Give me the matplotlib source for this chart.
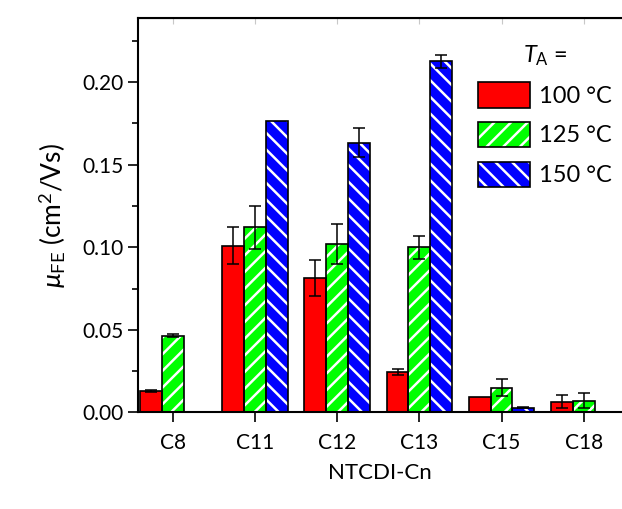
import numpy as np
import matplotlib
matplotlib.use("Agg")
import matplotlib.pyplot as plt
from matplotlib.patches import Patch
from matplotlib.legend_handler import HandlerTuple
from matplotlib.ticker import MultipleLocator, FormatStrFormatter

plt.rcParams['font.family'] = ['Lato', 'DejaVu Sans']
plt.rcParams['mathtext.fontset'] = 'custom'
plt.rcParams['mathtext.rm'] = 'Lato'
plt.rcParams['mathtext.it'] = 'Lato:italic'
plt.rcParams['hatch.linewidth'] = 1.8

# data
categories = ['C8', 'C11', 'C12', 'C13', 'C15', 'C18']
labels = ['100 °C', '125 °C', '150 °C']
mu_100 = [0.013, 0.101, 0.0815, 0.0245, 0.0093, 0.0063]
err_100 = [0.0008, 0.011, 0.011, 0.002, 0.0, 0.004]
mu_125 = [0.0465, 0.112, 0.102, 0.100, 0.015, 0.0071]
err_125 = [0.001, 0.013, 0.012, 0.007, 0.005, 0.0047]
mu_150 = [0.0, 0.1764, 0.1634, 0.2126, 0.0029, 0.0]
err_150 = [0.0, 0.0, 0.009, 0.004, 0.0005, 0.0]

colors = ['#ff0000', '#00ff00', '#0000ff']
hatches = [None, '//', '\\\\']

fig = plt.figure(figsize=(6.22, 5.09), dpi=100)
ax = fig.add_axes([0.222, 0.19, 0.776, 0.775])

x = np.arange(len(categories))
w = 0.265
series = [(mu_100, err_100), (mu_125, err_125), (mu_150, err_150)]
handles = []
for i, (vals, errs) in enumerate(series):
    pos = x + (i - 1) * w
    ax.bar(pos, vals, w, color=colors[i], edgecolor='white', linewidth=0,
           hatch=hatches[i], zorder=2)
    ax.bar(pos, vals, w, fill=False, edgecolor='black', linewidth=1.2, zorder=3)
    e = np.array(errs)
    m = e > 0
    ax.errorbar(pos[m], np.array(vals)[m], yerr=e[m], fmt='none', ecolor='black',
                elinewidth=1.1, capsize=4.5, capthick=1.1, zorder=4)
    h1 = Patch(facecolor=colors[i], edgecolor='white', linewidth=0, hatch=hatches[i])
    h2 = Patch(fill=False, edgecolor='black', linewidth=1.2)
    handles.append((h1, h2))

ax.set_xlim(-0.42, 5.45)
ax.set_ylim(0, 0.239)
ax.set_xticks(x)
ax.set_xticklabels(categories)
ax.yaxis.set_major_locator(MultipleLocator(0.05))
ax.yaxis.set_minor_locator(MultipleLocator(0.025))
ax.yaxis.set_major_formatter(FormatStrFormatter('%.2f'))
ax.tick_params(axis='both', which='major', direction='out', length=7, width=1.2,
               labelsize=15)
ax.tick_params(axis='x', which='major', pad=8)
ax.tick_params(axis='y', which='minor', direction='out', length=4, width=1.2)
# faint marks along the top edge
ax.secondary_xaxis('top').tick_params(direction='in', length=4, color='#c8c8c8',
                                      labeltop=False)
for s in ax.spines.values():
    s.set_linewidth(1.5)
ax.spines['right'].set_visible(False)

ax.set_xlabel('NTCDI-Cn', fontsize=16, labelpad=7)
ax.set_ylabel(r'$\mu_{\rm FE}$ (cm$^2$/Vs)', fontsize=19, labelpad=10)

leg = ax.legend(handles, labels, handler_map={tuple: HandlerTuple(ndivide=1)},
                title=r'$T_{\rm A}$ =', loc='upper right', frameon=False,
                fontsize=17, title_fontsize=17, handlelength=2.2, handleheight=1.3,
                handletextpad=0.35, labelspacing=0.6, bbox_to_anchor=(1.025, 0.99))

fig.savefig('out.png', dpi=100)
